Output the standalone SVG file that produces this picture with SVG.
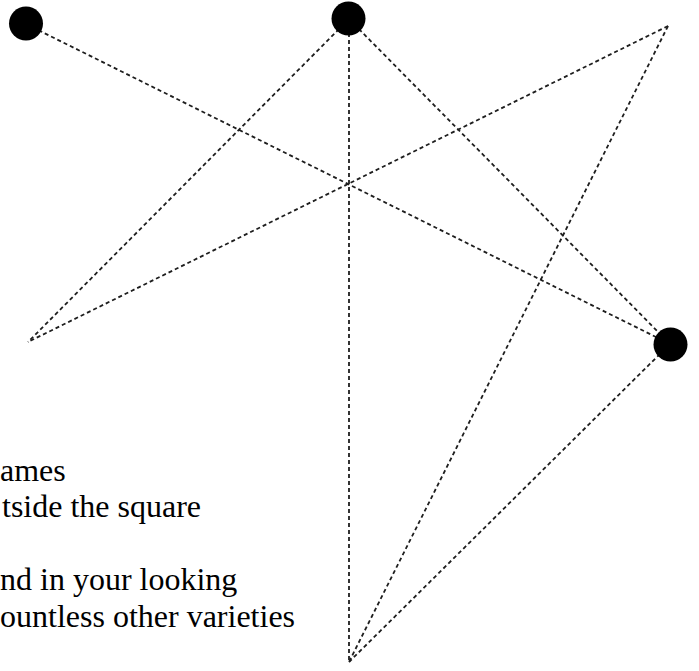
<svg xmlns="http://www.w3.org/2000/svg" width="699" height="671" viewBox="0 0 699 671">
<style>
.edge{stroke:#1e1e1e;stroke-width:1.8;stroke-dasharray:4 3;fill:none}
.dot{fill:#000}
.txt{font-family:"Liberation Serif","Times New Roman",serif;font-size:32px;fill:#000}
</style>
<rect width="699" height="671" fill="#fff"/>
<g id="connectors">
<line class="edge" x1="26" y1="24" x2="670" y2="344"/>
<line class="edge" x1="668" y1="26" x2="28" y2="342"/>
<line class="edge" x1="349" y1="19" x2="28" y2="342"/>
<line class="edge" x1="349" y1="19" x2="670" y2="344"/>
<line class="edge" x1="349" y1="19" x2="349" y2="662"/>
<line class="edge" x1="668" y1="26" x2="349" y2="662"/>
<line class="edge" x1="670" y1="344" x2="349" y2="662"/>
</g>
<g id="node-a"><circle class="dot" cx="26" cy="23.5" r="17"/></g>
<g id="node-b"><circle class="dot" cx="348.5" cy="18.5" r="17"/></g>
<g id="node-c"><circle class="dot" cx="670.5" cy="344.5" r="17"/></g>
<g id="caption">
<text class="txt" x="0" y="481">ames</text>
<text class="txt" x="2" y="517">tside the square</text>
<text class="txt" x="0" y="590">nd in your looking</text>
<text class="txt" x="0" y="627">ountless other varieties</text>
</g>
</svg>
